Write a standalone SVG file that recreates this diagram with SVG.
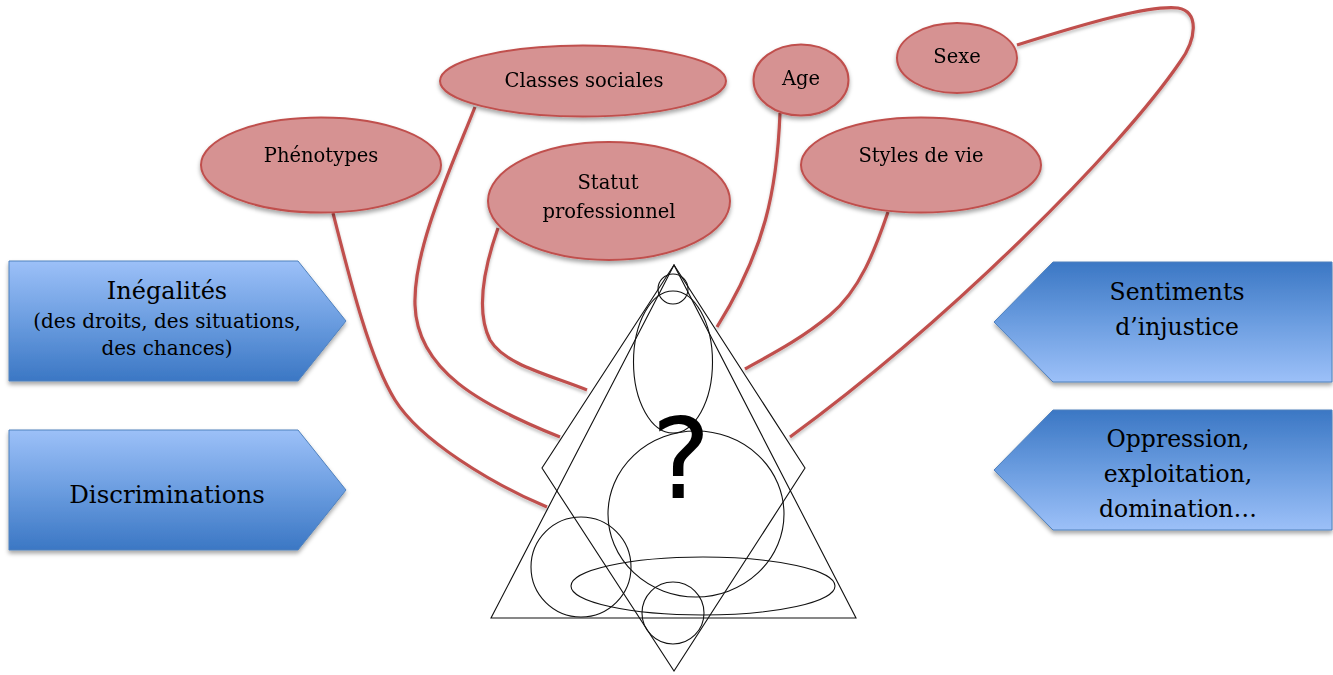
<svg xmlns="http://www.w3.org/2000/svg" width="1333" height="675" viewBox="0 0 1333 675">
<defs>
<linearGradient id="gDown" x1="0" y1="0" x2="0" y2="1">
<stop offset="0" stop-color="#9cc0f8"/>
<stop offset="0.5" stop-color="#6b9de0"/>
<stop offset="1" stop-color="#3b77c4"/>
</linearGradient>
<linearGradient id="gUp" x1="0" y1="0" x2="0" y2="1">
<stop offset="0" stop-color="#3b77c4"/>
<stop offset="0.5" stop-color="#6b9de0"/>
<stop offset="1" stop-color="#9cc0f8"/>
</linearGradient>
<filter id="sh" x="-20%" y="-20%" width="140%" height="150%">
<feDropShadow dx="0" dy="3" stdDeviation="2.2" flood-color="#000" flood-opacity="0.35"/>
</filter>
<filter id="shl" x="-20%" y="-20%" width="140%" height="140%">
<feDropShadow dx="0" dy="2.5" stdDeviation="1.8" flood-color="#000" flood-opacity="0.25"/>
</filter>
</defs>
<style>
text{font-family:"DejaVu Serif","Liberation Serif",serif;fill:#000;text-anchor:middle}
.oval{fill:#d69292;stroke:#c0504d;stroke-width:2}
.lbl{font-size:19.5px}
.box{stroke:#4f81bd;stroke-width:1}
.fig{fill:none;stroke:#111;stroke-width:1.1}
.con{fill:none;stroke:#c0504d;stroke-width:3.2;stroke-linecap:butt}
</style>
<rect width="1333" height="675" fill="#fff"/>

<g id="figure">
<polygon class="fig" points="674,265 491,618 856,618"/>
<polygon class="fig" points="674,265 542,468 674,671 805,468"/>
<circle class="fig" cx="673" cy="289" r="15"/>
<ellipse class="fig" cx="673" cy="362" rx="39.5" ry="71"/>
<ellipse class="fig" cx="696" cy="514" rx="88" ry="83"/>
<circle class="fig" cx="581" cy="567" r="50"/>
<ellipse class="fig" cx="703" cy="586" rx="132" ry="29"/>
<circle class="fig" cx="673" cy="613" r="31"/>
<text x="681" y="498" style="font-family:'DejaVu Sans','Liberation Sans',sans-serif;font-size:112px">?</text>
</g>

<g id="connectors" filter="url(#shl)">
<path class="con" d="M333,213 C350,280 370,360 395,400 C420,440 490,483 547,507"/>
<path class="con" d="M475,107 C450,170 413,250 415,305 C417,370 480,405 560,437"/>
<path class="con" d="M498,228 C485,265 475,310 490,340 C505,365 550,375 587,390"/>
<path class="con" d="M780,113 C777,190 765,250 717,327"/>
<path class="con" d="M888,212 C875,250 860,290 830,315 C800,340 770,355 745,369"/>
<path class="con" d="M1017,45 C1090,22 1150,5 1178,8 C1200,12 1196,40 1180,62 C1120,150 950,320 790,437"/>
</g>

<g id="node-phenotypes" filter="url(#sh)">
<ellipse class="oval" cx="321" cy="165" rx="120" ry="47.5"/>
<text class="lbl" x="321" y="162">Phénotypes</text>
</g>
<g id="node-classes" filter="url(#sh)">
<ellipse class="oval" cx="583" cy="81" rx="143" ry="35.5"/>
<text class="lbl" x="584" y="87">Classes sociales</text>
</g>
<g id="node-statut" filter="url(#sh)">
<ellipse class="oval" cx="609" cy="201" rx="121" ry="59"/>
<text class="lbl" x="608" y="189">Statut</text>
<text class="lbl" x="609" y="218">professionnel</text>
</g>
<g id="node-age" filter="url(#sh)">
<ellipse class="oval" cx="801" cy="80" rx="47.5" ry="35.5"/>
<text class="lbl" x="801" y="85">Age</text>
</g>
<g id="node-sexe" filter="url(#sh)">
<ellipse class="oval" cx="957" cy="58" rx="60" ry="35"/>
<text class="lbl" x="957" y="63">Sexe</text>
</g>
<g id="node-styles" filter="url(#sh)">
<ellipse class="oval" cx="921" cy="165" rx="120" ry="47.5"/>
<text class="lbl" x="921" y="162">Styles de vie</text>
</g>

<g id="node-inegalites">
<polygon class="box" fill="url(#gDown)" filter="url(#sh)" points="9,261 298,261 346,321 298,381 9,381"/>
<text x="167" y="299" style="font-size:24px">Inégalités</text>
<text x="167" y="328" style="font-size:20px">(des droits, des situations,</text>
<text x="167" y="355" style="font-size:20px">des chances)</text>
</g>
<g id="node-discriminations">
<polygon class="box" fill="url(#gDown)" filter="url(#sh)" points="9,430 298,430 346,490 298,550 9,550"/>
<text x="167" y="503" style="font-size:24.5px">Discriminations</text>
</g>
<g id="node-sentiments">
<polygon class="box" fill="url(#gUp)" filter="url(#sh)" points="994,322 1053,262 1332,262 1332,382 1053,382"/>
<text x="1177" y="300" style="font-size:23.5px">Sentiments</text>
<text x="1177" y="335" style="font-size:23.5px">d’injustice</text>
</g>
<g id="node-oppression">
<polygon class="box" fill="url(#gUp)" filter="url(#sh)" points="994,470 1053,410 1332,410 1332,530 1053,530"/>
<text x="1178" y="447" style="font-size:23.5px">Oppression,</text>
<text x="1178" y="482" style="font-size:23.5px">exploitation,</text>
<text x="1178" y="517" style="font-size:23.5px">domination…</text>
</g>
</svg>
